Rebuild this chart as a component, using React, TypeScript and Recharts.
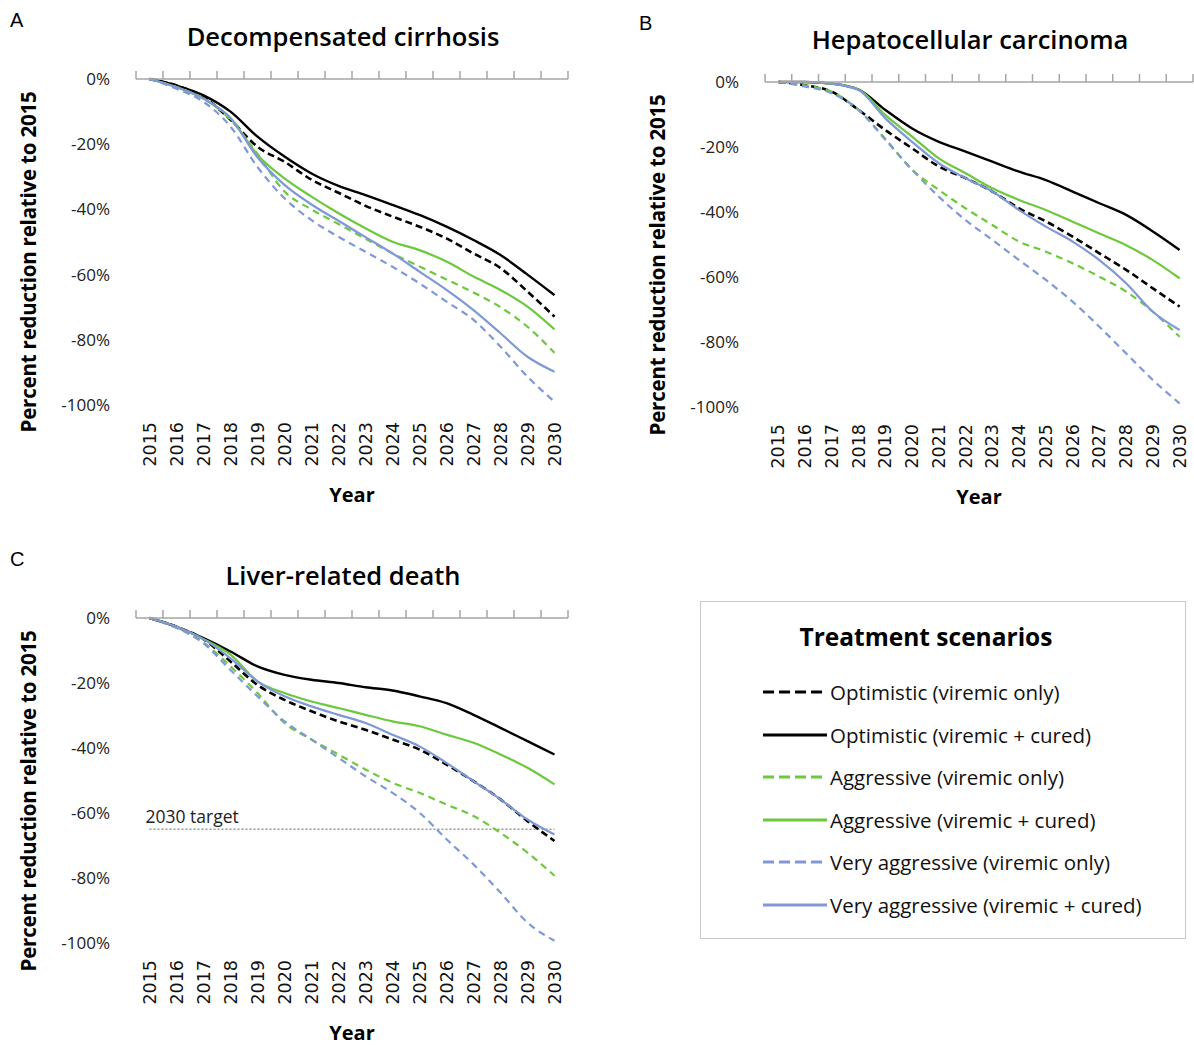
import { LineChart, Line, XAxis, YAxis, ReferenceLine } from 'recharts';

const years = [2015, 2016, 2017, 2018, 2019, 2020, 2021, 2022, 2023, 2024, 2025, 2026, 2027, 2028, 2029, 2030];
const yTicks = [0, -20, -40, -60, -80, -100];
const target2030 = -65;

// A: decompensated cirrhosis
const dcOptViremic = [0, -2, -5.5, -12.5, -20.8, -25.4, -30.9, -34.9, -38.9, -42.2, -45.3, -48.9, -53.5, -58, -65.2, -72.9];
const dcOptCured = [0, -2, -5, -10, -17.7, -23.8, -29, -32.8, -35.6, -38.6, -41.7, -45.3, -49.4, -54, -60, -66.3];
const dcAggViremic = [0, -2.5, -6, -12.5, -23, -34.5, -40, -44.5, -49, -53.5, -57.5, -61.5, -65.5, -70, -76, -84];
const dcAggCured = [0, -2.5, -6, -12, -23.3, -30.5, -36.1, -41.2, -45.8, -49.9, -52.5, -56, -60.6, -64.7, -69.8, -76.8];
const dcVeryViremic = [0, -3, -7, -14.6, -27, -36.6, -43.3, -48.4, -53, -57.6, -62.7, -68.3, -73.9, -82.1, -91.3, -99];
const dcVeryCured = [0, -2.5, -6, -12, -24, -32.5, -38.5, -43.5, -48.5, -53.5, -59.1, -64.7, -70.9, -78, -85.2, -89.8];

// B: hepatocellular carcinoma
const hccOptViremic = [0, -1, -3, -8.6, -14.8, -20.4, -26, -29.6, -33.7, -38.9, -42.9, -47.6, -52.7, -57.8, -63.5, -69.1];
const hccOptCured = [0, 0, -0.5, -2.3, -8.6, -14.3, -18.4, -21.4, -24.5, -27.6, -30.2, -33.7, -37.3, -40.9, -46, -51.7];
const hccAggViremic = [0, -1, -3, -8.6, -17.5, -27, -33.2, -38.9, -44, -49.1, -52.2, -55.8, -59.9, -64.5, -70.7, -78.4];
const hccAggCured = [0, 0, -0.5, -2.3, -10.2, -16.8, -23.5, -28.1, -32.7, -36.3, -39.4, -43, -46.6, -50.2, -54.8, -60.4];
const hccVeryViremic = [0, -1.4, -3.5, -8.6, -17.8, -27, -35.3, -42.5, -48.6, -54.8, -60.9, -67.6, -75.3, -83.5, -91.7, -98.9];
const hccVeryCured = [0, 0, -0.5, -2.5, -11.2, -18.4, -25, -29.6, -33.7, -39.4, -44.5, -49.1, -54.8, -61.9, -70.7, -76.3];

// C: liver-related death
const ldOptViremic = [0, -2.7, -6.5, -13.4, -20.6, -25.2, -28.7, -31.8, -34.4, -37.4, -40.5, -45.1, -50.2, -55.8, -62.5, -68.6];
const ldOptCured = [0, -2.7, -6.2, -10.3, -14.9, -17.5, -19, -20, -21.3, -22.3, -24.1, -26.2, -29.8, -33.8, -37.9, -42];
const ldAggViremic = [0, -3, -7.5, -14.9, -23.1, -32.3, -37.4, -42, -46.6, -50.7, -53.8, -57.4, -60.9, -66.1, -72.2, -79.3];
const ldAggCured = [0, -2.7, -6.5, -11.3, -19.5, -23.1, -25.7, -27.7, -29.8, -31.8, -33.3, -35.9, -38.4, -42, -46.1, -51.2];
const ldVeryViremic = [0, -3, -7.8, -16, -24.1, -31.8, -37.4, -43, -48.7, -53.8, -59.9, -68.1, -75.8, -84.5, -93.7, -99.3];
const ldVeryCured = [0, -2.7, -6.5, -12.4, -19.5, -24.1, -27.2, -29.8, -32.3, -35.9, -39.5, -44.6, -50.2, -55.8, -62, -66.6];

const GREEN = '#6cc93c';
const BLUE = '#7f98d8';
const FONT = '"Open Sans", "Noto Sans", sans-serif';

const series = [
  { key: 'optViremic', name: 'Optimistic (viremic only)', color: '#000', dash: '7 4', width: 2.6 },
  { key: 'optCured', name: 'Optimistic (viremic + cured)', color: '#000', dash: undefined, width: 2.4 },
  { key: 'aggViremic', name: 'Aggressive (viremic only)', color: GREEN, dash: '7 5', width: 2.2 },
  { key: 'aggCured', name: 'Aggressive (viremic + cured)', color: GREEN, dash: undefined, width: 2.2 },
  { key: 'veryViremic', name: 'Very aggressive (viremic only)', color: BLUE, dash: '7 5', width: 2.2 },
  { key: 'veryCured', name: 'Very aggressive (viremic + cured)', color: BLUE, dash: undefined, width: 2.2 },
];

const bounds = [...years.map((y) => y - 0.5), years[years.length - 1] + 0.5];

function rows(cols: number[][]) {
  return years.map((year, i) => {
    const r: Record<string, number> = { year };
    series.forEach((s, j) => {
      r[s.key] = cols[j][i];
    });
    return r;
  });
}

function YearTick(props: any) {
  const { x, y, payload } = props;
  return (
    <text
      x={x}
      y={y}
      transform={`rotate(-90, ${x}, ${y})`}
      textAnchor="end"
      dominantBaseline="central"
      fontSize={17.5}
      fontFamily='"DejaVu Sans", sans-serif'
      fill="#111"
    >
      {payload.value}
    </text>
  );
}

interface PanelProps {
  letter: string;
  title: string;
  data: Record<string, number>[];
  plotX: number;
  plotY: number;
  plotW: number;
  plotH: number;
  showTarget?: boolean;
}

function Panel({ letter, title, data, plotX, plotY, plotW, plotH, showTarget }: PanelProps) {
  const W = plotW + 140;
  const H = plotH + 79 + 115;
  const cx = plotX + plotW / 2;
  return (
    <>
      <div style={{ position: 'absolute', left: plotX - 126, top: plotY - 70, fontSize: 20, fontFamily: '"Liberation Sans", sans-serif' }}>
        {letter}
      </div>
      <div
        style={{
          position: 'absolute',
          left: cx - 9,
          top: plotY - 43,
          transform: 'translate(-50%, -50%)',
          fontSize: 25.5,
          fontWeight: 600,
          fontFamily: FONT,
          whiteSpace: 'nowrap',
        }}
      >
        {title}
      </div>
      <div
        style={{
          position: 'absolute',
          left: plotX - 108,
          top: plotY + plotH / 2 + 20,
          transform: 'translate(-50%, -50%) rotate(-90deg)',
          fontSize: 20.5,
          fontWeight: 700,
          fontFamily: FONT,
          whiteSpace: 'nowrap',
          letterSpacing: -0.2,
        }}
      >
        Percent reduction relative to 2015
      </div>
      <div
        style={{
          position: 'absolute',
          left: cx,
          top: plotY + plotH + 89,
          transform: 'translate(-50%, -50%)',
          fontSize: 20,
          fontWeight: 700,
          fontFamily: FONT,
        }}
      >
        Year
      </div>
      <div style={{ position: 'absolute', left: plotX - 130, top: plotY - 79 }}>
        <LineChart width={W} height={H} data={data} margin={{ top: 69, right: 10, left: 30, bottom: 15 }}>
          <XAxis
            xAxisId="top"
            orientation="top"
            type="number"
            dataKey="year"
            domain={[bounds[0], bounds[bounds.length - 1]]}
            ticks={bounds}
            interval={0}
            height={10}
            tickFormatter={() => ''}
            tickSize={8}
            tickMargin={0}
            stroke="#a6a6a6"
            strokeWidth={1.5}
            allowDataOverflow
          />
          <XAxis
            xAxisId="bottom"
            type="number"
            dataKey="year"
            domain={[bounds[0], bounds[bounds.length - 1]]}
            ticks={years}
            interval={0}
            height={100}
            axisLine={false}
            tickLine={false}
            tickSize={0}
            tickMargin={17}
            tick={<YearTick />}
            allowDataOverflow
          />
          <YAxis
            domain={[-100, 0]}
            ticks={yTicks}
            interval={0}
            width={100}
            axisLine={false}
            tickLine={false}
            tickSize={0}
            tickMargin={26}
            tickFormatter={(v: number) => `${v}%`}
            tick={{ fontSize: 17, fill: '#222', fontFamily: FONT }}
          />
          {showTarget && (
            <ReferenceLine
              xAxisId="bottom"
              segment={[
                { x: years[0], y: target2030 },
                { x: years[years.length - 1], y: target2030 },
              ]}
              stroke="#999"
              strokeWidth={1.5}
              strokeDasharray="2 2"
              label={(p: any) => {
                const vb = p.viewBox || {};
                return (
                  <text x={(vb.x ?? 0) - 4} y={(vb.y ?? 0) - 6} fontSize={17.5} fontFamily={FONT} fill="#222">
                    2030 target
                  </text>
                );
              }}
            />
          )}
          {series.map((s) => (
            <Line
              key={s.key}
              xAxisId="bottom"
              dataKey={s.key}
              name={s.name}
              type="monotone"
              stroke={s.color}
              strokeWidth={s.width}
              strokeDasharray={s.dash}
              dot={false}
              isAnimationActive={false}
            />
          ))}
        </LineChart>
      </div>
    </>
  );
}

function ScenarioLegend() {
  return (
    <div
      style={{
        position: 'absolute',
        left: 700,
        top: 601,
        width: 486,
        height: 338,
        border: '1px solid #c8c8c8',
        boxSizing: 'border-box',
        fontFamily: FONT,
      }}
    >
      <div style={{ position: 'absolute', left: 225, top: 34, transform: 'translate(-50%, -50%)', fontSize: 24.5, fontWeight: 700, whiteSpace: 'nowrap' }}>
        Treatment scenarios
      </div>
      {series.map((s, i) => (
        <div key={s.key} style={{ position: 'absolute', left: 62, top: 91 + i * 42.5 - 15, height: 28, display: 'flex', alignItems: 'center' }}>
          <svg width={64} height={10}>
            <line x1={0} y1={5} x2={64} y2={5} stroke={s.color} strokeWidth={3} strokeDasharray={s.dash ? '11 5' : undefined} />
          </svg>
          <span style={{ marginLeft: 3, fontSize: 20.5, color: '#111', whiteSpace: 'nowrap' }}>{s.name}</span>
        </div>
      ))}
    </div>
  );
}

export default function App() {
  return (
    <div style={{ position: 'absolute', left: 0, top: 0, width: 1194, height: 1045, background: '#fff' }}>
      <Panel
        letter="A"
        title="Decompensated cirrhosis"
        data={rows([dcOptViremic, dcOptCured, dcAggViremic, dcAggCured, dcVeryViremic, dcVeryCured])}
        plotX={136}
        plotY={79}
        plotW={432}
        plotH={326}
      />
      <Panel
        letter="B"
        title="Hepatocellular carcinoma"
        data={rows([hccOptViremic, hccOptCured, hccAggViremic, hccAggCured, hccVeryViremic, hccVeryCured])}
        plotX={765}
        plotY={82}
        plotW={428}
        plotH={325}
      />
      <Panel
        letter="C"
        title="Liver-related death"
        data={rows([ldOptViremic, ldOptCured, ldAggViremic, ldAggCured, ldVeryViremic, ldVeryCured])}
        plotX={136}
        plotY={618}
        plotW={432}
        plotH={325}
        showTarget
      />
      <ScenarioLegend />
    </div>
  );
}
